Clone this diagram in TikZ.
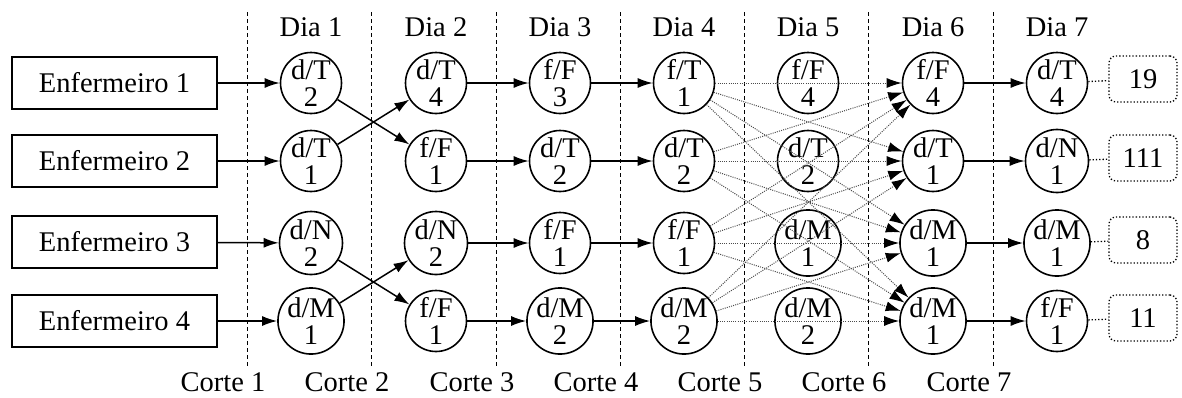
\documentclass[tikz,border=0pt]{standalone}
\usepackage{fontspec}
\setmainfont{Liberation Serif}
\usetikzlibrary{arrows.meta}
\begin{document}
\begin{tikzpicture}[x=1pt,y=-1pt,
  every node/.style={font=\fontsize{28.5}{26.5}\selectfont},
  nurse/.style={draw,line width=1.5pt,minimum width=205pt,minimum height=52pt,inner sep=0pt},
  st/.style={draw,circle,line width=1.6pt,minimum size=61pt,inner sep=0pt,align=center},
  res/.style={draw,dotted,line width=1.3pt,rounded corners=7pt,minimum width=68pt,minimum height=46pt,inner sep=0pt},
  arr/.style={line width=1.5pt,-{Latex[length=15pt,width=10pt]}},
  darr/.style={black!70,line width=1pt,dash pattern=on 1pt off 1.2pt,-{Latex[length=15pt,width=10pt,color=black]}},
  link/.style={dotted,line width=1.3pt},
  cut/.style={line width=0.9pt,dash pattern=on 4pt off 3pt}]
\useasboundingbox (0,0) rectangle (1182,397);
% cut lines
\foreach \i/\x in {1/247,2/371,3/496,4/620,5/744,6/868,7/993}{
  \coordinate (ct\i) at (\x,12);
  \coordinate (cb\i) at (\x,366);
  \draw[cut] (ct\i) -- (cb\i);
  \node (corte\i) at (\x-24,382) {Corte \i};
}
% day labels
\foreach \i/\x in {1/311,2/436,3/560,4/684,5/808,6/933,7/1057}{
  \node (dia\i) at (\x,27) {Dia \i};
}
% nurses
\node[nurse] (e1) at (114.5,83) {Enfermeiro 1};
\node[nurse] (e2) at (114.5,161) {Enfermeiro 2};
\node[nurse] (e3) at (114.5,242) {Enfermeiro 3};
\node[nurse] (e4) at (114.5,321) {Enfermeiro 4};
% day nodes
\def\ya{83}\def\yb{161}\def\yc{243}\def\yd{321}
\node[st] (a1) at (311,\ya) {d/T\\2};
\node[st] (a2) at (311,\yb) {d/T\\1};
\node[st] (a3) at (311,\yc) {d/N\\2};
\node[st] (a4) at (311,\yd) {d/M\\1};
\node[st] (b1) at (436,\ya) {d/T\\4};
\node[st] (b2) at (436,\yb) {f/F\\1};
\node[st] (b3) at (436,\yc) {d/N\\2};
\node[st] (b4) at (436,\yd) {f/F\\1};
\node[st] (c1) at (560,\ya) {f/F\\3};
\node[st] (c2) at (560,\yb) {d/T\\2};
\node[st] (c3) at (560,\yc) {f/F\\1};
\node[st] (c4) at (560,\yd) {d/M\\2};
\node[st] (d1) at (684,\ya) {f/T\\1};
\node[st] (d2) at (684,\yb) {d/T\\2};
\node[st] (d3) at (684,\yc) {f/F\\1};
\node[st] (d4) at (684,\yd) {d/M\\2};
\node[st] (f1) at (808,\ya) {f/F\\4};
\node[st] (f2) at (808,\yb) {d/T\\2};
\node[st] (f3) at (808,\yc) {d/M\\1};
\node[st] (f4) at (808,\yd) {d/M\\2};
\node[st] (g1) at (933,\ya) {f/F\\4};
\node[st] (g2) at (933,\yb) {d/T\\1};
\node[st] (g3) at (933,\yc) {d/M\\1};
\node[st] (g4) at (933,\yd) {d/M\\1};
\node[st] (h1) at (1057,\ya) {d/T\\4};
\node[st] (h2) at (1057,\yb) {d/N\\1};
\node[st] (h3) at (1057,\yc) {d/M\\1};
\node[st] (h4) at (1057,\yd) {f/F\\1};
% results
\node[res] (r1) at (1143,79) {19};
\node[res] (r2) at (1143,158) {111};
\node[res] (r3) at (1143,240) {8};
\node[res] (r4) at (1143,318) {11};
% arrows
\foreach \i in {1,2,3,4}{
  \draw[arr] (e\i) -- (a\i);
  \draw[arr] (b\i) -- (c\i);
  \draw[arr] (c\i) -- (d\i);
  \draw[arr] (g\i) -- (h\i);
  \draw[link] (h\i) -- (r\i);
}
\draw[arr] (a1) -- (b2);
\draw[arr] (a2) -- (b1);
\draw[arr] (a3) -- (b4);
\draw[arr] (a4) -- (b3);
\foreach \i in {1,2,3,4}{
  \foreach \j in {1,2,3,4}{
    \draw[darr] (d\i) -- (g\j);
  }
}
\end{tikzpicture}
\end{document}
